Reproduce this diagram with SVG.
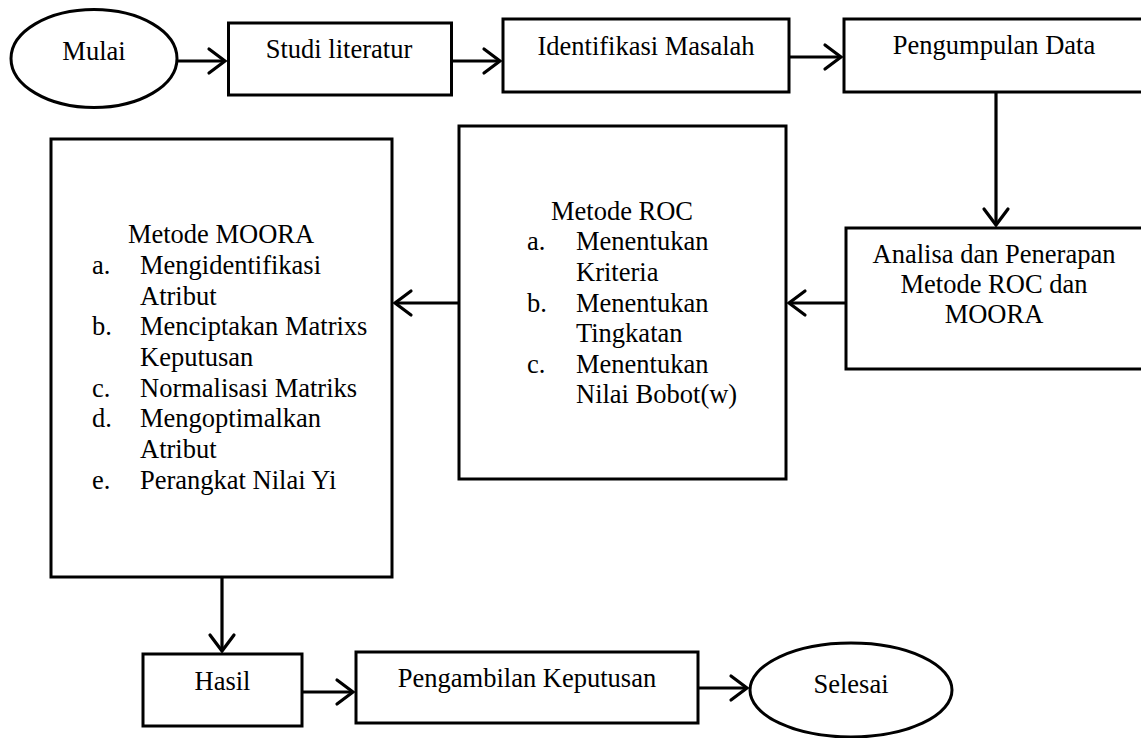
<svg xmlns="http://www.w3.org/2000/svg" width="1141" height="738" viewBox="0 0 1141 738">
<style>
.box{fill:#fff;stroke:#000;stroke-width:3}
.t{font-family:"Liberation Serif","Times New Roman",serif;font-size:26.5px;fill:#000}
.c{text-anchor:middle}
.con{stroke:#000;stroke-width:3.2;fill:none}
</style>
<defs>
<marker id="ah" markerUnits="userSpaceOnUse" viewBox="-22 -15 24 30" markerWidth="24" markerHeight="30" refX="0" refY="0" orient="auto" overflow="visible">
<path d="M-16,-12 L0,0 L-16,12" fill="none" stroke="#000" stroke-width="3.2" stroke-linecap="round"/>
</marker>
</defs>
<rect width="1141" height="738" fill="#fff"/>
<g id="connectors">
<line class="con" x1="178" y1="61" x2="225" y2="61" marker-end="url(#ah)"/>
<line class="con" x1="452" y1="61" x2="500" y2="61" marker-end="url(#ah)"/>
<line class="con" x1="790" y1="57" x2="841" y2="57" marker-end="url(#ah)"/>
<line class="con" x1="996" y1="92" x2="996" y2="225" marker-end="url(#ah)"/>
<line class="con" x1="845" y1="303" x2="789" y2="303" marker-end="url(#ah)"/>
<line class="con" x1="458" y1="303" x2="395" y2="303" marker-end="url(#ah)"/>
<line class="con" x1="222" y1="578" x2="222" y2="651" marker-end="url(#ah)"/>
<line class="con" x1="303" y1="692" x2="353" y2="692" marker-end="url(#ah)"/>
<line class="con" x1="699" y1="688" x2="747" y2="688" marker-end="url(#ah)"/>
</g>
<g id="mulai">
<ellipse class="box" cx="94" cy="58.5" rx="83" ry="49"/>
<text class="t c" x="94" y="60">Mulai</text>
</g>
<g id="studi">
<rect class="box" x="228.5" y="23" width="223" height="72"/>
<text class="t c" x="339" y="58">Studi literatur</text>
</g>
<g id="identifikasi">
<rect class="box" x="503" y="19" width="286" height="73"/>
<text class="t c" x="646" y="55">Identifikasi Masalah</text>
</g>
<g id="pengumpulan">
<rect class="box" x="844" y="19" width="305" height="73"/>
<text class="t c" x="994" y="54">Pengumpulan Data</text>
</g>
<g id="analisa">
<rect class="box" x="846" y="228" width="305" height="141"/>
<text class="t c" x="994" y="263">Analisa dan Penerapan</text>
<text class="t c" x="994" y="293">Metode ROC dan</text>
<text class="t c" x="994" y="323">MOORA</text>
</g>
<g id="roc">
<rect class="box" x="459" y="126" width="327" height="353"/>
<text class="t c" x="622" y="220">Metode ROC</text>
<text class="t" x="527" y="250">a.</text><text class="t" x="576" y="250">Menentukan</text>
<text class="t" x="576" y="281">Kriteria</text>
<text class="t" x="527" y="312">b.</text><text class="t" x="576" y="312">Menentukan</text>
<text class="t" x="576" y="342">Tingkatan</text>
<text class="t" x="527" y="373">c.</text><text class="t" x="576" y="373">Menentukan</text>
<text class="t" x="576" y="403">Nilai Bobot(w)</text>
</g>
<g id="moora">
<rect class="box" x="51" y="139" width="341" height="438"/>
<text class="t c" x="221" y="243">Metode MOORA</text>
<text class="t" x="92" y="274">a.</text><text class="t" x="140" y="274">Mengidentifikasi</text>
<text class="t" x="140" y="305">Atribut</text>
<text class="t" x="92" y="335">b.</text><text class="t" x="140" y="335">Menciptakan Matrixs</text>
<text class="t" x="140" y="366">Keputusan</text>
<text class="t" x="92" y="397">c.</text><text class="t" x="140" y="397">Normalisasi Matriks</text>
<text class="t" x="92" y="427">d.</text><text class="t" x="140" y="427">Mengoptimalkan</text>
<text class="t" x="140" y="458">Atribut</text>
<text class="t" x="92" y="489">e.</text><text class="t" x="140" y="489">Perangkat Nilai Yi</text>
</g>
<g id="hasil">
<rect class="box" x="143" y="654" width="159" height="72"/>
<text class="t c" x="222.5" y="690">Hasil</text>
</g>
<g id="pengambilan">
<rect class="box" x="356" y="652" width="342" height="71"/>
<text class="t c" x="527" y="687">Pengambilan Keputusan</text>
</g>
<g id="selesai">
<ellipse class="box" cx="851" cy="690" rx="101" ry="47"/>
<text class="t c" x="851" y="693">Selesai</text>
</g>
</svg>
